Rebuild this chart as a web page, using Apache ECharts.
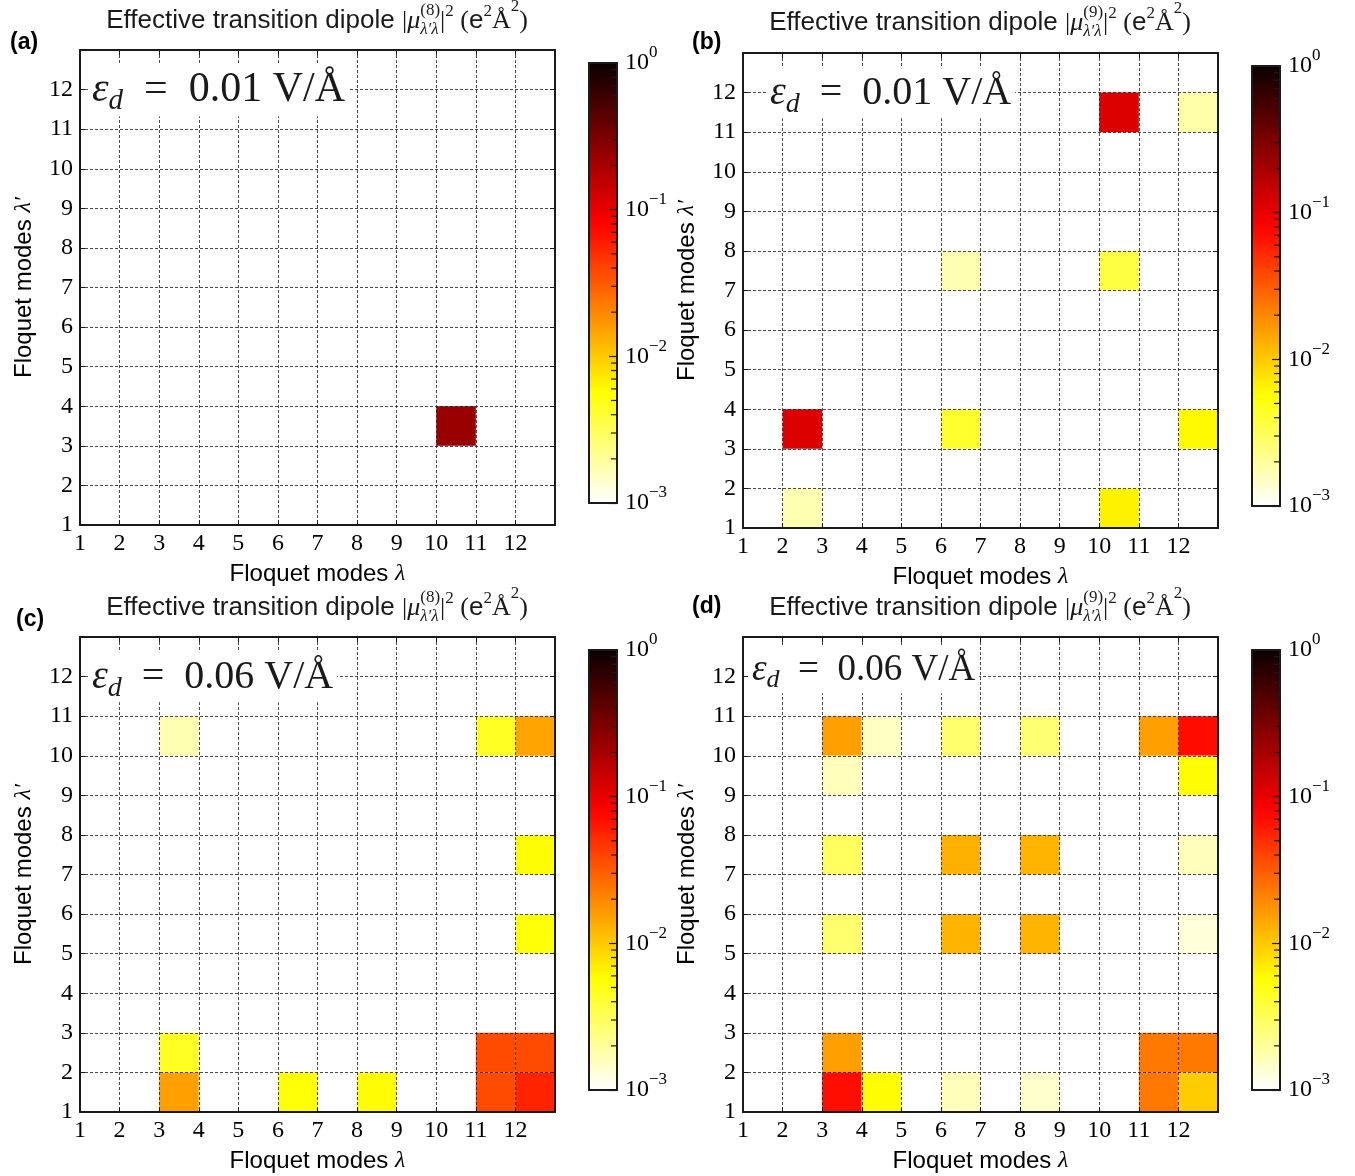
<!DOCTYPE html>
<html>
<head>
<meta charset="utf-8">
<script src="https://cdn.jsdelivr.net/npm/echarts@6/dist/echarts.min.js"></script>
<style>
  html, body { margin: 0; padding: 0; background: #fff; }
  #chart { width: 1355px; height: 1176px; }
</style>
</head>
<body>
<div id="chart"></div>
<script>
// tick labels of both mode axes (13 is the closing edge, unlabelled)
const MODES = ['1', '2', '3', '4', '5', '6', '7', '8', '9', '10', '11', '12'];
// colour bar
const CB_TICKS = [0.001, 0.01, 0.1, 1];
const CB_EXPONENTS = ['−3', '−2', '−1', '0'];
const CB_MINOR = [
  0.002, 0.003, 0.004, 0.005, 0.006, 0.007, 0.008, 0.009,
  0.02, 0.03, 0.04, 0.05, 0.06, 0.07, 0.08, 0.09,
  0.2, 0.3, 0.4, 0.5, 0.6, 0.7, 0.8, 0.9,
];

// [lambda, lambda', |mu|^2 in e^2 A^2] ; cells under 1e-3 stay white
const CELLS_A = [[10, 3, 0.23]];
const CELLS_B = [
  [10, 11, 0.115], [12, 11, 0.0018],
  [6, 7, 0.0017], [10, 7, 0.0037],
  [2, 3, 0.115], [6, 3, 0.0042], [12, 3, 0.006],
  [2, 1, 0.0017], [10, 1, 0.0066],
];
const CELLS_C = [
  [3, 10, 0.0017], [11, 10, 0.0045], [12, 10, 0.0147],
  [12, 7, 0.0058], [12, 5, 0.0055],
  [3, 2, 0.0045], [11, 2, 0.037], [12, 2, 0.037],
  [3, 1, 0.0155], [6, 1, 0.0055], [8, 1, 0.0058], [11, 1, 0.037], [12, 1, 0.056],
];
const CELLS_D = [
  [3, 10, 0.0155], [4, 10, 0.0015], [6, 10, 0.0027], [8, 10, 0.0026], [11, 10, 0.0155], [12, 10, 0.072],
  [3, 9, 0.0016], [12, 9, 0.0058],
  [3, 7, 0.003], [6, 7, 0.013], [8, 7, 0.0126], [12, 7, 0.0016],
  [3, 5, 0.0027], [6, 5, 0.0126], [8, 5, 0.0126], [12, 5, 0.0013],
  [3, 2, 0.0155], [11, 2, 0.023], [12, 2, 0.023],
  [3, 1, 0.07], [4, 1, 0.0058], [6, 1, 0.0016], [8, 1, 0.0014], [11, 1, 0.023], [12, 1, 0.0098],
];

const PANELS = [
  { tag: '(a)', order: '8', field: '0.01', cells: CELLS_A },
  { tag: '(b)', order: '9', field: '0.01', cells: CELLS_B },
  { tag: '(c)', order: '8', field: '0.06', cells: CELLS_C },
  { tag: '(d)', order: '9', field: '0.06', cells: CELLS_D },
];

// where things sit on the page
const LAYOUT = [
  { plot: [80, 50], bar: [589, 63], title: [317, 21], tag: [10, 43], label: [92, 90, 42] },
  { plot: [743, 53], bar: [1252, 66], title: [980, 23], tag: [692, 43], label: [770, 93, 40] },
  { plot: [80, 637], bar: [589, 650], title: [317, 608], tag: [16, 620], label: [92, 677, 40] },
  { plot: [743, 637], bar: [1252, 650], title: [980, 608], tag: [692, 607], label: [752, 670, 37] },
];
const PLOT_SIZE = 475;
const BAR_W = 28;
const BAR_H = 440;

const SANS = '"Liberation Sans", Arial, sans-serif';
const SERIF = '"Liberation Serif", "DejaVu Serif", serif';
const INK = '#1a1a1a';

// matplotlib "hot", used reversed
function hot(t) {
  const r = t < 0.365079 ? 0.0416 + (1 - 0.0416) * t / 0.365079 : 1;
  const g = t < 0.365079 ? 0 : t < 0.746032 ? (t - 0.365079) / (0.746032 - 0.365079) : 1;
  const b = t < 0.746032 ? 0 : (t - 0.746032) / (1 - 0.746032);
  return `rgb(${Math.round(r * 255)},${Math.round(g * 255)},${Math.round(b * 255)})`;
}
const HOT_R = [];
for (let k = 0; k <= 40; k++) HOT_R.push(hot(1 - k / 40));

const measure = document.createElement('canvas').getContext('2d');
function textWidth(text, font) {
  measure.font = font;
  return measure.measureText(text).width;
}

// lays out [text, font, dy] pieces left to right; {stack: [...]} pieces share one slot
function inlineText(pieces, x, y, centered) {
  const widths = pieces.map(p => p.stack
    ? Math.max(...p.stack.map(q => textWidth(q[0], q[1])))
    : textWidth(p[0], p[1]));
  const total = widths.reduce((a, b) => a + b, 0);
  const left = centered ? x - total / 2 : x;
  let cx = left;
  const children = [];
  pieces.forEach((p, i) => {
    (p.stack || [p]).forEach(q => children.push({
      type: 'text', x: cx, y: y + (q[2] || 0),
      style: { text: q[0], font: q[1], fill: INK, align: 'left', verticalAlign: 'middle' },
    }));
    cx += widths[i];
  });
  return { children, left, width: total };
}

function titlePieces(order) {
  const big = `26px ${SERIF}`;
  const small = `17px ${SERIF}`;
  return [
    ['Effective transition dipole ', `26px ${SANS}`],
    ['|', big],
    ['μ', `italic 26px ${SERIF}`],
    { stack: [['(' + order + ')', small, -10], ['λ′λ', `italic 17px ${SERIF}`, 9]] },
    ['|', big],
    ['2', small, -9],
    [' (', big],
    ['e', `26px ${SANS}`],
    ['2', small, -9],
    ['Å', big],
    ['2', small, -14],
    [')', big],
  ];
}

function modeAxis(gridIndex, position, primary) {
  return {
    type: 'value', gridIndex, position, min: 1, max: 13, interval: 1, z: 3,
    axisLine: { show: true, onZero: false, lineStyle: { color: INK, width: 2 } },
    axisTick: { show: true, inside: true, length: 5, lineStyle: { color: INK, width: 1 } },
    axisLabel: {
      show: primary, margin: 7, color: '#000', fontFamily: SERIF, fontSize: 24,
      formatter: v => MODES[v - 1] ?? '',
    },
    splitLine: { show: primary, lineStyle: { color: '#1a1a1a', width: 0.8, type: [3, 2] } },
  };
}

function frameAxis(gridIndex, position) {
  return {
    type: 'value', gridIndex, position, min: 0, max: 1, z: 5,
    axisLine: { show: true, onZero: false, lineStyle: { color: INK, width: 2 } },
    axisTick: { show: false }, axisLabel: { show: false }, splitLine: { show: false },
  };
}

const nameStyle = {
  color: '#000',
  rich: {
    t: { fontFamily: SANS, fontSize: 24, color: '#000' },
    m: { fontFamily: SERIF, fontStyle: 'italic', fontSize: 24, color: '#000' },
  },
};

const grid = [], xAxis = [], yAxis = [], series = [], visualMap = [], elements = [];

PANELS.forEach((panel, i) => {
  const L = LAYOUT[i];
  const g = grid.length;
  grid.push({ left: L.plot[0], top: L.plot[1], width: PLOT_SIZE, height: PLOT_SIZE });
  grid.push({ left: L.bar[0], top: L.bar[1], width: BAR_W, height: BAR_H });

  const xi = xAxis.length;
  const yi = yAxis.length;
  xAxis.push(
    Object.assign(modeAxis(g, 'bottom', true), {
      name: '{t|Floquet modes }{m|λ}', nameLocation: 'middle', nameGap: 37, nameTextStyle: nameStyle,
    }),
    modeAxis(g, 'top', false),
    frameAxis(g + 1, 'bottom'),
    frameAxis(g + 1, 'top'),
  );
  yAxis.push(
    Object.assign(modeAxis(g, 'left', true), {
      name: '{t|Floquet modes }{m|λ′}', nameLocation: 'middle', nameGap: 44, nameRotate: 90,
      nameTextStyle: nameStyle,
    }),
    modeAxis(g, 'right', false),
    frameAxis(g + 1, 'left'),
    {
      type: 'log', logBase: 10, gridIndex: g + 1, position: 'right', min: 0.001, max: 1, z: 5,
      axisLine: { show: true, onZero: false, lineStyle: { color: INK, width: 2 } },
      axisTick: { show: true, inside: true, length: 8, lineStyle: { color: INK, width: 1.2 } },
      axisLabel: {
        margin: 8,
        formatter: v => {
          const k = CB_TICKS.findIndex(t => Math.abs(Math.log10(t) - Math.log10(v)) < 1e-6);
          return k < 0 ? '' : '{b|10}{s|' + CB_EXPONENTS[k] + '}';
        },
        rich: {
          b: { fontFamily: SERIF, fontSize: 24, color: '#000' },
          s: { fontFamily: SERIF, fontSize: 17, color: '#000', padding: [0, 0, 20, 0] },
        },
      },
      splitLine: { show: false },
    },
  );

  visualMap.push({
    type: 'continuous', seriesIndex: series.length, dimension: 2, min: -3, max: 0,
    inRange: { color: HOT_R }, orient: 'vertical', left: L.bar[0], top: L.bar[1],
    itemWidth: BAR_W, itemHeight: BAR_H, padding: 0, calculable: false, hoverLink: false, z: 4,
  });

  series.push({
    type: 'custom', xAxisIndex: xi, yAxisIndex: yi, z: 2,
    encode: { x: 0, y: 1 },
    data: panel.cells.map(([x, y, v]) => [x, y, Math.log10(v)]),
    renderItem: (params, api) => {
      const p0 = api.coord([api.value(0), api.value(1) + 1]);
      const p1 = api.coord([api.value(0) + 1, api.value(1)]);
      return {
        type: 'rect',
        shape: { x: p0[0], y: p0[1], width: p1[0] - p0[0], height: p1[1] - p0[1] },
        style: { fill: api.visual('color') },
      };
    },
  });

  series.push({
    type: 'custom', xAxisIndex: xi + 2, yAxisIndex: yi + 3, z: 10, silent: true,
    data: CB_MINOR.map(v => [1, v]),
    renderItem: (params, api) => {
      const p = api.coord([1, api.value(1)]);
      return {
        type: 'line',
        shape: { x1: p[0], y1: p[1], x2: p[0] - 6, y2: p[1] },
        style: { stroke: INK, lineWidth: 1.2 },
      };
    },
  });

  // title
  elements.push({ type: 'group', children: inlineText(titlePieces(panel.order), L.title[0], L.title[1], true).children });
  // panel tag
  elements.push({
    type: 'text', x: L.tag[0], y: L.tag[1],
    style: { text: panel.tag, font: `bold 23px ${SANS}`, fill: '#000', align: 'left', verticalAlign: 'middle' },
  });
  // field strength label on a white box
  const fs = L.label[2];
  const lab = inlineText([
    ['ε', `italic ${fs}px ${SERIF}`],
    ['d', `italic ${Math.round(fs * 0.7)}px ${SERIF}`, fs * 0.28],
    ['  =  ' + panel.field + ' V/Å', `${fs}px ${SERIF}`],
  ], L.label[0], L.label[1], false);
  elements.push({
    type: 'group', z: 50,
    children: [{
      type: 'rect', z: 50,
      shape: { x: lab.left - 4, y: L.label[1] - fs * 0.62, width: lab.width + 8, height: fs * 1.25 },
      style: { fill: '#fff' },
    }].concat(lab.children.map(c => Object.assign(c, { z: 51 }))),
  });
});

const chart = echarts.init(document.getElementById('chart'), null, { renderer: 'canvas' });
chart.setOption({
  backgroundColor: '#fff',
  animation: false,
  grid, xAxis, yAxis, visualMap, series,
  graphic: { elements },
});
</script>
</body>
</html>
